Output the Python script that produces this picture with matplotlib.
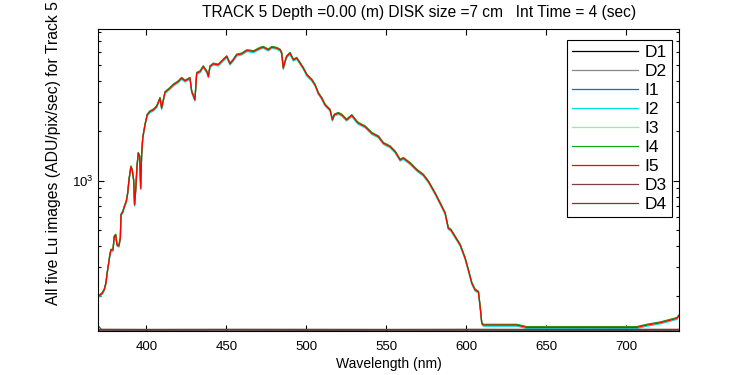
"""Lu spectra for track 5: five light images (I1-I5) and four darks (D1-D4)."""
import matplotlib
matplotlib.use("Agg")
import matplotlib.pyplot as plt
import matplotlib.ticker as mticker

plt.rcParams["font.family"] = ["Liberation Sans", "DejaVu Sans"]
plt.rcParams["mathtext.fontset"] = "custom"
plt.rcParams["mathtext.rm"] = "Liberation Sans"

# wavelength (nm) and I5 signal (ADU/pix/sec)
WAVELENGTH = [
    370.1, 371.2, 372.5, 373.7, 374.8, 375.4, 376.2, 377.1, 377.9, 379.2,
    380.0, 380.9, 381.7, 382.9, 383.8, 384.2, 385.4, 386.3, 387.5, 388.4,
    389.2, 390.4, 391.2, 392.1, 392.7, 393.4, 394.2, 395.0, 395.9, 396.5,
    397.1, 397.8, 399.2, 400.6, 402.3, 404.4, 406.5, 408.6, 409.6, 411.7,
    414.8, 416.9, 420.0, 422.1, 424.2, 427.3, 428.4, 429.4, 430.4, 431.5,
    433.6, 435.6, 437.8, 438.8, 439.8, 441.9, 445.0, 448.1, 450.3, 452.3,
    454.4, 456.5, 459.6, 462.8, 464.8, 466.9, 471.1, 473.1, 476.3, 478.4,
    481.5, 483.6, 484.6, 485.6, 486.7, 487.7, 489.8, 491.9, 494.0, 496.1,
    498.1, 500.3, 503.4, 505.4, 507.5, 509.6, 511.7, 514.8, 516.3, 517.5,
    520.0, 522.1, 525.2, 528.4, 531.5, 532.5, 536.7, 540.9, 545.0, 548.1,
    552.3, 555.4, 558.6, 560.6, 564.8, 569.0, 573.1, 576.3, 580.4, 583.6,
    586.7, 588.7, 590.3, 592.9, 596.1, 599.2, 601.2, 603.4, 605.4, 607.5,
    608.6, 609.6, 610.6, 621.1, 631.5, 637.7, 683.6, 706.5, 712.7, 721.0,
    727.3, 731.5, 733.1,
]
LU_I5 = [
    200, 203, 208, 218, 239, 268, 301, 346, 380, 380,
    458, 469, 408, 402, 448, 620, 649, 696, 746, 839,
    1010, 1215, 1161, 1010, 713, 879, 1215, 1466, 1398, 899,
    1432, 1815, 2176, 2502, 2620, 2683, 2809, 3158, 2747, 3424,
    3631, 3802, 3981, 4175, 4021, 4175, 3462, 3262, 3084, 4476,
    4577, 4909, 4577, 4269, 4909, 5097, 5027, 5390, 5644, 5097,
    5390, 5779, 5861, 6138, 6112, 6053, 6346, 6435, 6198, 6435,
    6346, 6198, 5919, 4801, 5263, 5644, 5919, 5390, 5520, 5147,
    4801, 4371, 4077, 3802, 3386, 3158, 2876, 2683, 2333, 2502,
    2562, 2502, 2333, 2485, 2278, 2228, 2125, 1938, 1848, 1686,
    1607, 1499, 1335, 1367, 1275, 1161, 1083, 986, 839, 730,
    635, 515, 503, 458, 408, 339, 288, 239, 218, 212,
    172, 137, 133.5, 133.5, 133.5, 129.3, 129.3, 129.3, 133.5, 137.9,
    143, 146.6, 153.5,
]

# the other light images sit a hair above / below I5
LIGHT_NAMES = ["I1", "I2", "I3", "I4", "I5"]
LIGHT_SCALE = [1.006, 0.985, 1.000, 1.012, 1.000]
LIGHT_COLOURS = ["#0070e0", "#00e0e8", "#80ff80", "#10b010", "#ff0000"]

# dark images, flat along the bottom of the axes
DARK_WL = [370.1, 372.0, 400, 450, 500, 550, 600, 650, 700, 733.1]
DARK_VALUES = {
    "D1": [124.6, 124.6, 124.5, 124.6, 124.4, 124.5, 124.6, 124.5, 124.4, 124.6],
    "D2": [125.2, 125.2, 125.3, 125.1, 125.2, 125.3, 125.2, 125.1, 125.3, 125.2],
    "D3": [132.0, 125.6, 125.5, 125.6, 125.4, 125.5, 125.6, 125.5, 125.6, 125.5],
    "D4": [125.8, 125.8, 125.7, 125.8, 125.9, 125.7, 125.8, 125.7, 125.8, 125.8],
}
DARK_COLOURS = {"D1": "#000000", "D2": "#888888", "D3": "#804040", "D4": "#703838"}

fig = plt.figure(figsize=(7.5, 3.75), dpi=100)
ax = fig.add_axes([0.131, 0.1173, 0.7747, 0.8054])

for name in ["D1", "D2"]:
    ax.plot(DARK_WL, DARK_VALUES[name], color=DARK_COLOURS[name], lw=0.9, label=name)
for name, scale, colour in zip(LIGHT_NAMES, LIGHT_SCALE, LIGHT_COLOURS):
    ax.plot(WAVELENGTH, [v * scale for v in LU_I5], color=colour, lw=0.9, label=name)
for name in ["D3", "D4"]:
    ax.plot(DARK_WL, DARK_VALUES[name], color=DARK_COLOURS[name], lw=0.9, label=name)

ax.set_yscale("log")
ax.set_xlim(370, 733)
ax.set_ylim(123, 8300)
ax.set_xticks([400, 450, 500, 550, 600, 650, 700])
ax.yaxis.set_minor_formatter(mticker.NullFormatter())
ax.tick_params(which="both", direction="in", top=True, right=True, labelsize=9.5)
ax.tick_params(axis="x", pad=7)
ax.tick_params(which="major", length=4, width=0.8)
ax.tick_params(which="minor", length=2.5, width=0.8)
for side in ax.spines.values():
    side.set_linewidth(0.8)

ax.set_xlabel("Wavelength (nm)", fontsize=10, labelpad=3)
fig.text(54 / 750, 70 / 375, "All five Lu images (ADU/pix/sec) for Track 5",
         rotation=90, ha="center", va="bottom", fontsize=11.3)
fig.text(419 / 750, 1 - 12 / 375, "TRACK 5 Depth =0.00 (m) DISK size =7 cm   Int Time = 4 (sec)",
         ha="center", va="center", fontsize=11.2)

leg = ax.legend(loc="upper right", bbox_to_anchor=(0.9874, 0.9636), fontsize=12.5,
                frameon=True, fancybox=False, framealpha=1, edgecolor="black",
                handlelength=3.83, handletextpad=0.35, labelspacing=0.22,
                borderpad=0.3, borderaxespad=0)
leg.get_frame().set_linewidth(0.8)

fig.savefig("out.png", dpi=100)
